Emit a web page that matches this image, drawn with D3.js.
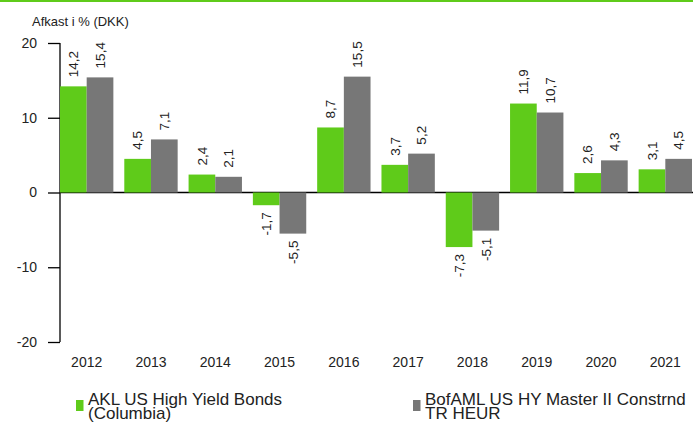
<!DOCTYPE html>
<html>
<head>
<meta charset="utf-8">
<script src="https://cdn.jsdelivr.net/npm/d3@7"></script>
<style>
  body { margin: 0; background: #fff; }
  svg { display: block; font-family: "Liberation Sans", Arial, sans-serif; }
</style>
</head>
<body>
<svg id="chart" width="693" height="423"></svg>
<script>
// chart data
const years = ["2012", "2013", "2014", "2015", "2016", "2017", "2018", "2019", "2020", "2021"];
const seriesNames = ["AKL US High Yield Bonds (Columbia)", "BofAML US HY Master II Constrnd TR HEUR"];
const aklValues = [14.2, 4.5, 2.4, -1.7, 8.7, 3.7, -7.3, 11.9, 2.6, 3.1];
const bofamlValues = [15.4, 7.1, 2.1, -5.5, 15.5, 5.2, -5.1, 10.7, 4.3, 4.5];
const yTicks = [20, 10, 0, -10, -20];
const colours = ["#5fcb1a", "#777777"];

const svg = d3.select("#chart");

// thin green rule across the top
svg.append("rect")
    .attr("x", 0).attr("y", 0)
    .attr("width", 693).attr("height", 2)
    .attr("fill", colours[0]);

const plot = { left: 60, right: 692, top: 43, bottom: 342 };

const yScale = d3.scaleLinear()
    .domain([-20, 20])
    .range([plot.bottom, plot.top]);

const xScale = d3.scaleBand()
    .domain(years)
    .range([plot.left, plot.right])
    .paddingInner(0.17)
    .paddingOuter(0);

const xSub = d3.scaleBand()
    .domain([0, 1])
    .range([0, xScale.bandwidth()]);

// danish decimal comma, plain hyphen for negatives
const fmt = v => v.toFixed(1).replace(".", ",");

// title
svg.append("text")
    .attr("x", 32).attr("y", 26)
    .attr("font-size", 13)
    .attr("fill", "#222")
    .text("Afkast i % (DKK)");

// zero line
svg.append("line")
    .attr("x1", plot.left).attr("x2", 693)
    .attr("y1", yScale(0)).attr("y2", yScale(0))
    .attr("stroke", "#000").attr("stroke-width", 1.3);

// y axis
const yAxis = svg.append("g")
    .attr("transform", `translate(${plot.left},0)`)
    .call(d3.axisLeft(yScale).tickValues(yTicks).tickSize(12).tickPadding(11).tickFormat(d => String(d)));
yAxis.select(".domain").attr("stroke", "#000").attr("stroke-width", 1.3)
    .attr("d", `M0,${plot.top}V${plot.bottom}`);
yAxis.selectAll(".tick line").attr("stroke", "#000").attr("stroke-width", 1.3);
yAxis.selectAll(".tick text")
    .attr("font-size", 14)
    .attr("fill", "#222")
    .attr("font-family", "Liberation Sans, Arial, sans-serif");

// x axis labels
const xAxis = svg.append("g")
    .attr("transform", `translate(0,${plot.bottom})`)
    .call(d3.axisBottom(xScale).tickSize(0).tickPadding(15));
xAxis.select(".domain").remove();
xAxis.selectAll(".tick text")
    .attr("font-size", 14)
    .attr("fill", "#222")
    .attr("font-family", "Liberation Sans, Arial, sans-serif");

// bars
const rows = years.map((y, i) => ({ year: y, values: [aklValues[i], bofamlValues[i]] }));

const groups = svg.selectAll(".year-group")
    .data(rows)
    .join("g")
    .attr("class", "year-group")
    .attr("transform", d => `translate(${xScale(d.year)},0)`);

groups.selectAll("rect")
    .data(d => d.values.map((v, s) => ({ v, s })))
    .join("rect")
    .attr("x", d => xSub(d.s))
    .attr("width", xSub.bandwidth())
    .attr("y", d => yScale(Math.max(0, d.v)))
    .attr("height", d => Math.abs(yScale(d.v) - yScale(0)))
    .attr("fill", d => colours[d.s]);

// value labels, rotated
groups.selectAll("text.value")
    .data(d => d.values.map((v, s) => ({ v, s })))
    .join("text")
    .attr("class", "value")
    .attr("font-size", 13.5)
    .attr("fill", "#222")
    .attr("text-anchor", d => d.v >= 0 ? "start" : "end")
    .attr("dy", "0.35em")
    .attr("transform", d => {
        const cx = xSub(d.s) + xSub.bandwidth() / 2;
        const cy = d.v >= 0 ? yScale(d.v) - 9 : yScale(d.v) + 7;
        return `translate(${cx},${cy}) rotate(-90)`;
    })
    .text(d => fmt(d.v));

// legend
const legendX = [76, 413];
const legendLines = [["AKL US High Yield Bonds", "(Columbia)"], ["BofAML US HY Master II Constrnd", "TR HEUR"]];
const legend = svg.selectAll(".legend")
    .data(seriesNames)
    .join("g")
    .attr("class", "legend")
    .attr("transform", (d, i) => `translate(${legendX[i]},0)`);

legend.append("rect")
    .attr("x", 0).attr("y", 400)
    .attr("width", 7.5).attr("height", 11)
    .attr("fill", (d, i) => colours[i]);

legend.append("text")
    .attr("x", 12).attr("y", 405)
    .attr("font-size", 17)
    .attr("fill", "#222")
    .selectAll("tspan")
    .data((d, i) => legendLines[i])
    .join("tspan")
    .attr("x", 12)
    .attr("dy", (d, j) => j === 0 ? 0 : 14)
    .text(d => d);
</script>
</body>
</html>
